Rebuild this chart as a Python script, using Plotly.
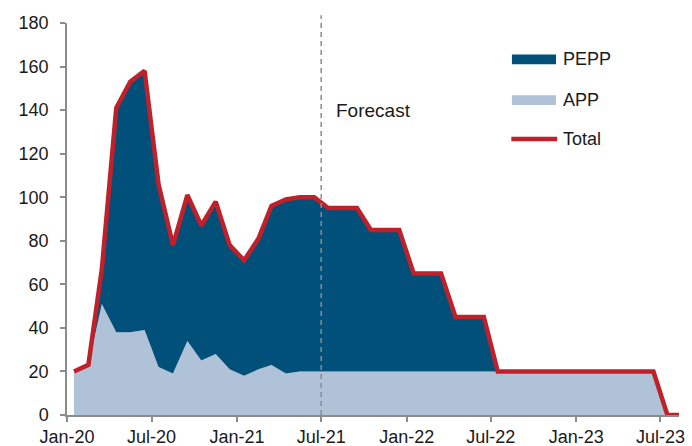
import pandas as pd
import plotly.graph_objects as go

# Monthly net purchases, EUR bn (mid-month observations, Jan-20 .. Aug-23)
months = pd.date_range("2020-01-01", "2023-08-01", freq="MS") + pd.Timedelta(days=15)

app = [20, 23, 51, 38, 38, 39, 22, 19, 34, 25, 28, 21,
       18, 21, 23, 19, 20, 20, 20, 20, 20, 20, 20, 20,
       20, 20, 20, 20, 20, 20, 20, 20, 20, 20, 20, 20,
       20, 20, 20, 20, 20, 20, 0, 0]

pepp = [0, 0, 16, 103, 115, 119, 84, 59, 67, 62, 70, 57,
        53, 60, 73, 80, 80, 80, 75, 75, 75, 65, 65, 65,
        45, 45, 45, 25, 25, 25, 0, 0, 0, 0, 0, 0,
        0, 0, 0, 0, 0, 0, 0, 0]

total = [a + p for a, p in zip(app, pepp)]

tick_dates = ["2020-01-01", "2020-07-01", "2021-01-01", "2021-07-01",
              "2022-01-01", "2022-07-01", "2023-01-01", "2023-07-01"]
tick_labels = ["Jan-20", "Jul-20", "Jan-21", "Jul-21",
               "Jan-22", "Jul-22", "Jan-23", "Jul-23"]
y_ticks = [0, 20, 40, 60, 80, 100, 120, 140, 160, 180]

forecast_start = "2021-07-01"

C_PEPP = "#00507a"
C_APP = "#b0c2d7"
C_TOTAL = "#c0202a"
C_AXIS = "#8c8c8c"
C_TEXT = "#1a1a1a"
FONT = "Liberation Sans, Arial, sans-serif"

fig = go.Figure()
fig.add_trace(go.Scatter(x=months, y=app, name="APP", stackgroup="s",
                         mode="lines", line=dict(width=0, color=C_APP),
                         fillcolor=C_APP, showlegend=False))
fig.add_trace(go.Scatter(x=months, y=pepp, name="PEPP", stackgroup="s",
                         mode="lines", line=dict(width=0, color=C_PEPP),
                         fillcolor=C_PEPP, showlegend=False))
fig.add_trace(go.Scatter(x=months, y=total, name="Total", mode="lines",
                         line=dict(width=4.5, color=C_TOTAL),
                         showlegend=False))

# forecast divider
fig.add_shape(type="line", xref="x", yref="paper",
              x0=forecast_start, x1=forecast_start, y0=0, y1=1.02,
              line=dict(color=C_AXIS, width=1.5, dash="5px,4px"), layer="above")
fig.add_annotation(x=forecast_start, y=0.778, xref="x", yref="paper",
                   text="Forecast", showarrow=False, xanchor="left",
                   yanchor="middle", xshift=13,
                   font=dict(size=19, color=C_TEXT, family=FONT))

# legend drawn in paper coordinates
legend_items = [("PEPP", "box", C_PEPP, 0.907),
                ("APP", "box", C_APP, 0.803),
                ("Total", "line", C_TOTAL, 0.704)]
for label, kind, color, yc in legend_items:
    if kind == "box":
        fig.add_shape(type="rect", xref="paper", yref="paper",
                      x0=0.727, x1=0.799, y0=yc - 0.0125, y1=yc + 0.0125,
                      fillcolor=color, line=dict(width=0))
    else:
        fig.add_shape(type="line", xref="paper", yref="paper",
                      x0=0.726, x1=0.801, y0=yc, y1=yc,
                      line=dict(color=color, width=4.5))
    fig.add_annotation(x=0.808, y=yc, xref="paper", yref="paper", text=label,
                       showarrow=False, xanchor="left", yanchor="middle",
                       font=dict(size=18, color=C_TEXT, family=FONT))

fig.update_layout(
    width=692, height=446,
    margin=dict(l=67, r=13, t=23, b=31),
    plot_bgcolor="white", paper_bgcolor="white",
    font=dict(family=FONT, size=18, color=C_TEXT),
    xaxis=dict(type="date", range=["2020-01-01", "2023-08-10"],
               tickvals=tick_dates, ticktext=tick_labels, automargin=False,
               showgrid=False, zeroline=False, showline=True,
               linecolor=C_AXIS, linewidth=1.5, ticks="outside",
               ticklen=5, tickcolor=C_AXIS, tickwidth=1.5,
               ticklabelstandoff=0,
               tickfont=dict(size=18, color=C_TEXT)),
    yaxis=dict(range=[0, 180], tickvals=y_ticks, automargin=False,
               showgrid=False, zeroline=False, showline=True,
               linecolor=C_AXIS, linewidth=1.5, ticks="outside",
               ticklen=5, tickcolor=C_AXIS, tickwidth=1.5,
               ticklabelstandoff=8,
               tickfont=dict(size=18, color=C_TEXT)),
)

fig.write_html("out.html")
